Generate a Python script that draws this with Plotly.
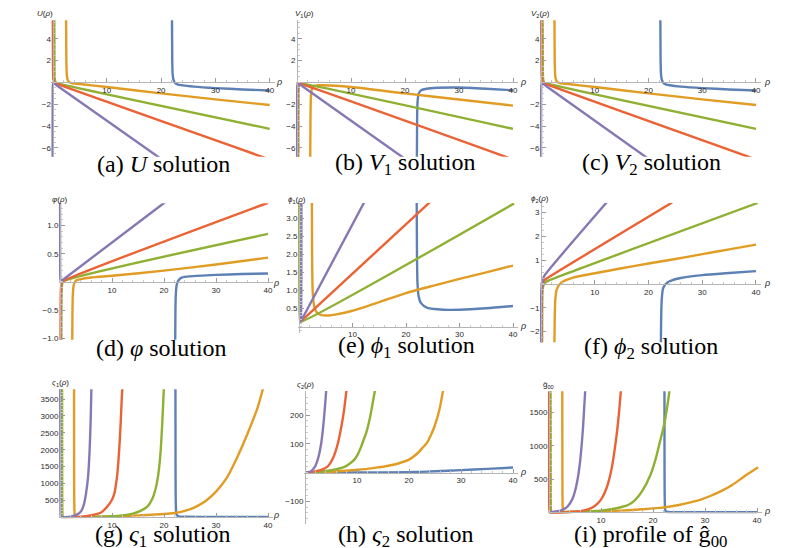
import plotly.graph_objects as go

# ---------------- data ----------------
rho_ticks = [10, 20, 30, 40]

# (a) U
u_blue = [(22.0, 6.2), (22.05, 2.0), (22.12, 0.8), (22.25, 0.3), (22.5, 0.0), (23.0, -0.17), (24, -0.27),
          (26, -0.38), (30, -0.52), (35, -0.64), (40, -0.74)]
u_orange = [(2.5, 6.2), (2.55, 2.0), (2.62, 0.8), (2.75, 0.3), (3.0, 0.05), (3.5, -0.06), (5, -0.14),
            (10, -0.42), (20, -1.0), (30, -1.55), (40, -2.07)]
u_green = [(0.33, 6.2), (0.36, 1.5), (0.42, 0.3), (0.6, 0.0), (1, -0.09), (40, -4.25)]
u_red = [(0.05, 6.2), (0.08, 1.5), (0.15, 0.3), (0.3, 0.0), (1, -0.16), (40, -7.05)]
u_purple = [(0.0, -7.0), (0.02, -1.5), (0.06, -0.3), (0.15, -0.05), (1, -0.35), (20, -7.0)]

# (b) V1
v1_blue = [(22.2, -7.0), (22.25, -3.0), (22.35, -1.6), (22.55, -1.0), (23, -0.72), (24, -0.58), (26, -0.49),
           (30, -0.46), (35, -0.57), (40, -0.72)]
v1_orange = [(2.45, -7.0), (2.5, -3.0), (2.58, -1.3), (2.75, -0.6), (3.1, -0.33), (4, -0.26), (6, -0.28),
             (10, -0.42), (20, -1.0), (30, -1.56), (40, -2.12)]
v1_green = [(0.25, -7.0), (0.27, -2.0), (0.32, -0.5), (0.42, -0.1), (1, -0.11), (40, -4.25)]
v1_red = [(0.1, -7.0), (0.12, -2.0), (0.18, -0.5), (0.3, -0.1), (1, -0.18), (40, -7.05)]
v1_purple = [(0.0, -7.0), (0.02, -1.5), (0.06, -0.3), (0.15, -0.05), (1, -0.35), (20, -7.0)]

# (c) V2
v2_blue = [(22.2, 6.2), (22.25, 2.0), (22.32, 0.8), (22.45, 0.3), (22.7, 0.0), (23.2, -0.17), (24, -0.26),
           (26, -0.38), (30, -0.52), (35, -0.64), (40, -0.74)]
v2_orange = [(2.5, 6.2), (2.55, 2.0), (2.62, 0.8), (2.75, 0.3), (3.0, 0.05), (3.5, -0.06), (5, -0.14),
             (10, -0.42), (20, -1.0), (30, -1.55), (40, -2.07)]
v2_green = [(0.3, 6.2), (0.33, 1.5), (0.4, 0.3), (0.6, 0.0), (1, -0.09), (40, -4.25)]
v2_red = [(0.05, 6.2), (0.08, 1.5), (0.15, 0.3), (0.3, 0.0), (1, -0.16), (40, -7.05)]
v2_purple = [(0.0, -7.0), (0.02, -1.5), (0.06, -0.3), (0.15, -0.05), (1, -0.35), (20, -7.0)]

# (d) varphi
phi_blue = [(22.15, -1.1), (22.2, -0.5), (22.28, -0.2), (22.45, -0.05), (22.8, 0.03), (23.5, 0.08),
            (25, 0.1), (30, 0.125), (35, 0.14), (40, 0.15)]
phi_orange = [(2.35, -1.1), (2.4, -0.5), (2.48, -0.2), (2.65, -0.05), (3.0, 0.02), (4, 0.05), (6, 0.08),
              (10, 0.11), (20, 0.2), (30, 0.31), (40, 0.43)]
phi_green = [(0.25, -1.1), (0.27, -0.5), (0.32, -0.15), (0.45, -0.02), (0.8, 0.02), (40, 0.85)]
phi_red = [(0.1, -1.1), (0.12, -0.5), (0.17, -0.15), (0.3, -0.02), (0.7, 0.02), (40, 1.4)]
phi_purple = [(0.0, 1.45), (0.02, 0.5), (0.05, 0.1), (0.15, 0.01), (0.5, 0.035), (20.2, 1.41)]

# (e) phi1
phi1_blue = [(22.0, 3.5), (22.05, 2.0), (22.15, 1.2), (22.35, 0.85), (22.8, 0.65), (24, 0.52), (27, 0.47),
             (30, 0.47), (35, 0.51), (40, 0.57)]
phi1_orange = [(2.4, 3.5), (2.45, 2.0), (2.55, 1.0), (2.8, 0.6), (3.3, 0.4), (4.2, 0.32), (5.5, 0.31),
               (7, 0.34), (10, 0.44), (15, 0.68), (20, 0.93), (25, 1.13), (30, 1.32), (35, 1.5), (40, 1.69)]
phi1_green = [(0.05, 3.5), (0.07, 1.0), (0.12, 0.35), (0.2, 0.17), (0.35, 0.14), (40.2, 3.41)]
phi1_red = [(0.3, 0.14), (24.5, 3.45)]
phi1_purple = [(0.45, 3.5), (0.42, 0.8), (0.36, 0.25), (0.3, 0.14), (0.6, 0.22), (12.4, 3.5)]

# (f) phi2
phi2_blue = [(22.3, -2.5), (22.35, -1.5), (22.45, -0.7), (22.7, -0.2), (23.2, 0.0), (24, 0.12), (26, 0.25),
             (30, 0.37), (35, 0.46), (40, 0.54)]
phi2_orange = [(2.5, -2.5), (2.55, -1.5), (2.65, -0.7), (2.9, -0.25), (3.5, 0.0), (4.5, 0.15), (6, 0.27),
               (10, 0.45), (15, 0.66), (20, 0.86), (25, 1.05), (30, 1.25), (35, 1.45), (40, 1.65)]
phi2_green = [(0.2, -2.5), (0.22, -1.0), (0.28, -0.3), (0.45, -0.05), (0.9, 0.08), (1.5, 0.15), (40.3, 3.4)]
phi2_red = [(0.1, -2.5), (0.12, -1.0), (0.17, -0.3), (0.3, 0.0), (0.6, 0.15), (1.2, 0.25), (24.4, 3.42)]
phi2_purple = [(0.0, -2.5), (0.02, -1.0), (0.06, -0.3), (0.15, 0.0), (0.35, 0.2), (0.7, 0.37), (12.2, 3.42)]

# (g) varsigma1
s1_blue = [(22.2, 3900), (22.22, 1500), (22.27, 400), (22.4, 80), (22.8, 25), (24, 15), (30, 10), (40, 10)]
s1_orange = [(2.7, 3900), (2.72, 1000), (2.78, 200), (2.9, 20), (3.2, 5), (6, 10), (10, 25), (15, 55),
             (20, 95), (22, 125), (24, 190), (26, 300), (28, 480), (30, 760), (32, 1150), (34, 1750),
             (36, 2450), (38, 3250), (39.2, 3900)]
s1_green = [(0.4, 3900), (0.42, 1000), (0.46, 150), (0.55, 5), (1, 2), (5, 10), (10, 30), (12, 55),
            (14, 110), (15.5, 190), (16.9, 330), (17.8, 560), (18.4, 850), (18.85, 1215), (19.3, 1850),
            (19.6, 2600), (19.85, 3400), (20.0, 3950)]
s1_red = [(0.3, 0), (3, 8), (5, 30), (7, 90), (7.9, 140), (9, 300), (10, 520), (10.5, 730), (10.75, 960),
          (11, 1250), (11.25, 1700), (11.5, 2300), (11.7, 2900), (11.9, 3600), (12.05, 3950)]
s1_purple = [(0.05, 3900), (0.07, 1000), (0.1, 150), (0.15, 5), (0.3, 0), (1, 5), (2, 20), (3, 60),
             (3.6, 110), (4.1, 190), (4.6, 380), (5.0, 700), (5.4, 1200), (5.7, 2000), (5.9, 2900), (6.05, 3900)]

# (h) varsigma2
s2_blue = [(0, 0), (10, 0.5), (20, 1.5), (22, 2.5), (25, 4.5), (30, 8.5), (35, 13), (40, 17.5)]
s2_orange = [(0, 0), (5, 3), (10.2, 10), (12, 13), (14, 18), (15.5, 22), (17.2, 28), (18.5, 35), (20, 45),
             (21.7, 68), (22.5, 84), (23.5, 105), (24.2, 130), (24.9, 160), (25.8, 215), (26.2, 250), (26.6, 290)]
s2_green = [(0, 0), (3, 3), (5, 8), (7.6, 20), (8.5, 30), (9.5, 45), (10.2, 65), (10.8, 90), (11.3, 115),
            (11.8, 140), (12.4, 183), (12.7, 210), (13.0, 240), (13.5, 290)]
s2_red = [(0, 0), (2, 4), (3.5, 12), (4.4, 22), (5.5, 55), (6.3, 100), (7.0, 160), (7.5, 215), (8.0, 290)]
s2_purple = [(0, 0), (1, 3), (1.9, 20), (2.6, 55), (3.1, 100), (3.5, 160), (3.8, 220), (4.1, 290)]

# (i) g00 hat
g_blue = [(22.2, 1900), (22.22, 600), (22.27, 150), (22.4, 20), (22.8, 5), (25, 3), (30, 2), (40, 2)]
g_orange = [(2.55, 1900), (2.58, 500), (2.65, 60), (2.8, 5), (4, 6), (8, 12), (12, 20), (15.2, 30),
            (18, 45), (21.8, 70), (25, 110), (27, 145), (29.3, 194), (31, 245), (33, 315), (35, 400),
            (36.5, 480), (38, 565), (39.2, 625), (40.2, 676)]
g_green = [(0.3, 1900), (0.32, 500), (0.36, 60), (0.45, 2), (1, 3), (5, 8), (10, 25), (12, 45), (14, 80),
           (15.2, 110), (16.5, 180), (18, 330), (19.5, 560), (20.5, 800), (21.3, 1050), (22.2, 1340),
           (22.8, 1620), (23.3, 1900)]
g_red = [(0.0, 1900), (0.02, 500), (0.06, 50), (0.2, 0), (4, 5), (6, 17), (7, 32), (8, 60), (8.8, 94),
         (10, 190), (11, 350), (12, 640), (13, 1160), (13.5, 1530), (13.9, 1900)]
g_purple = [(0.1, 0), (1, 8), (2, 21), (3, 52), (3.65, 94), (4.5, 200), (5, 316), (5.6, 542), (6, 780),
            (6.5, 1230), (7.05, 1950)]

# ---------------- style / geometry ----------------
W, H = 797, 548
COLORS = ['#5E81B5', '#E19C24', '#8FB032', '#EB6235', '#8778B3']
AX = '#b5b5b5'
TICKC = '#9a9a9a'
TF = dict(family='Liberation Sans', size=8, color='#2a2a2a')
SERIF = '"Liberation Serif", "Times New Roman", "DejaVu Serif", serif'
M = '\u2212'

panels = [
    dict(curves=[u_blue, u_orange, u_green, u_red, u_purple], x0=44.5, s=5.43, y0=75, ys=11, ylo=-6.8, yhi=5.7,
         yt=[-6, -4, -2, 2, 4], ytl=[M + '6', M + '4', M + '2', '2', '4'], ymin=0.5,
         lab='<i>U</i>(<i>ρ</i>)', labpos=(37, 6), rpos=(271, 75),
         cap='(a) <i>U</i> solution', cpos=(155, 157)),
    dict(curves=[v1_blue, v1_orange, v1_green, v1_red, v1_purple], x0=289, s=5.4, y0=75, ys=11, ylo=-6.8, yhi=5.7,
         yt=[-6, -4, -2, 2, 4], ytl=[M + '6', M + '4', M + '2', '2', '4'], ymin=0.5,
         lab='<i>V</i><sub>1</sub>(<i>ρ</i>)', labpos=(296, 6), rpos=(515, 75),
         cap='(b) <i>V</i><sub>1</sub> solution', cpos=(397, 157)),
    dict(curves=[v2_blue, v2_orange, v2_green, v2_red, v2_purple], x0=533, s=5.375, y0=75, ys=11, ylo=-6.8, yhi=5.7,
         yt=[-6, -4, -2, 2, 4], ytl=[M + '6', M + '4', M + '2', '2', '4'], ymin=0.5,
         lab='<i>V</i><sub>2</sub>(<i>ρ</i>)', labpos=(532, 6), rpos=(759, 75),
         cap='(c) <i>V</i><sub>2</sub> solution', cpos=(643, 157)),
    dict(curves=[phi_blue, phi_orange, phi_green, phi_red, phi_purple], x0=52, s=5.2, y0=276, ys=57, ylo=-1.02, yhi=1.39,
         yt=[-1.0, -0.5, 0.5, 1.0], ytl=[M + '1.0', M + '0.5', '0.5', '1.0'], ymin=0.1,
         lab='<i>φ</i>(<i>ρ</i>)', labpos=(51, 193), rpos=(268, 277),
         cap='(d) <i>φ</i> solution', cpos=(153, 342)),
    dict(curves=[phi1_blue, phi1_orange, phi1_green, phi1_red, phi1_purple], x0=291, s=5.35, y0=321, ys=36.4, ylo=-0.17, yhi=3.42,
         yt=[0.5, 1.0, 1.5, 2.0, 2.5, 3.0], ytl=['0.5', '1.0', '1.5', '2.0', '2.5', '3.0'], ymin=0.1,
         lab='<i>ϕ</i><sub>1</sub>(<i>ρ</i>)', labpos=(289, 193), rpos=(515, 320),
         cap='(e) <i>ϕ</i><sub>1</sub> solution', cpos=(398, 341)),
    dict(curves=[phi2_blue, phi2_orange, phi2_green, phi2_red, phi2_purple], x0=533, s=5.375, y0=278, ys=24, ylo=-2.45, yhi=3.4,
         yt=[-2, -1, 1, 2, 3], ytl=[M + '2', M + '1', '1', '2', '3'], ymin=0.25,
         lab='<i>ϕ</i><sub>2</sub>(<i>ρ</i>)', labpos=(532, 192), rpos=(759, 277),
         cap='(f) <i>ϕ</i><sub>2</sub> solution', cpos=(643, 342)),
    dict(curves=[s1_blue, s1_orange, s1_green, s1_red, s1_purple], x0=52, s=5.2, y0=513, ys=0.034, ylo=-30, yhi=3790,
         yt=[500, 1000, 1500, 2000, 2500, 3000, 3500], ytl=['500', '1000', '1500', '2000', '2500', '3000', '3500'], ymin=100,
         lab='<i>ς</i><sub>1</sub>(<i>ρ</i>)', labpos=(52, 378), rpos=(268, 511),
         cap='(g) <i>ς</i><sub>1</sub> solution', cpos=(154, 532)),
    dict(curves=[s2_blue, s2_orange, s2_green, s2_red, s2_purple], x0=297, s=5.2, y0=468, ys=0.29, ylo=-180, yhi=283,
         yt=[-100, 100, 200], ytl=[M + '100', '100', '200'], ymin=20,
         lab='<i>ς</i><sub>2</sub>(<i>ρ</i>)', labpos=(297, 380), rpos=(515, 467),
         cap='(h) <i>ς</i><sub>2</sub> solution', cpos=(397, 532)),
    dict(curves=[g_blue, g_orange, g_green, g_red, g_purple], x0=541, s=5.2, y0=508, ys=0.067, ylo=-30, yhi=1820,
         yt=[500, 1000, 1500], ytl=['500', '1000', '1500'], ymin=100,
         lab='ĝ<sub>00</sub>', labpos=(540, 380), rpos=(759, 507),
         cap='(i) profile of ĝ<sub>00</sub>', cpos=(642, 532)),
]

XLO, XHI = -0.25, 41.0

fig = go.Figure()
annotations = []
layout_axes = {}

for k, p in enumerate(panels):
    n = '' if k == 0 else str(k + 1)
    for curve, col in zip(p['curves'], COLORS):
        fig.add_trace(go.Scatter(
            x=[pt[0] for pt in curve], y=[pt[1] for pt in curve],
            mode='lines', line=dict(color=col, width=2.4, shape='spline', smoothing=0.6),
            xaxis='x' + n, yaxis='y' + n, showlegend=False, hoverinfo='skip'))

    xl = p['x0'] + p['s'] * XLO
    xr = p['x0'] + p['s'] * XHI
    yb = p['y0'] + p['ys'] * (0 - p['ylo'])
    yt = p['y0'] - p['ys'] * p['yhi']
    layout_axes['xaxis' + n] = dict(
        domain=[xl / W, xr / W], range=[XLO, XHI], anchor='free',
        position=1 - p['y0'] / H,
        showline=True, linecolor=AX, linewidth=1, showgrid=False, zeroline=False,
        tickmode='array', tickvals=rho_ticks, ticktext=[str(v) for v in rho_ticks],
        ticks='inside', ticklen=4, tickcolor=TICKC, tickfont=TF,
        minor=dict(tickmode='linear', tick0=0, dtick=2, ticks='inside', ticklen=2, tickcolor='#c8c8c8'),
        fixedrange=True)
    layout_axes['yaxis' + n] = dict(
        domain=[1 - yb / H, 1 - yt / H], range=[p['ylo'], p['yhi']], anchor='free',
        position=p['x0'] / W,
        showline=True, linecolor=AX, linewidth=1, showgrid=False, zeroline=False,
        tickmode='array', tickvals=p['yt'], ticktext=p['ytl'],
        ticks='inside', ticklen=4, tickcolor=TICKC, tickfont=TF,
        minor=dict(tickmode='linear', tick0=0, dtick=p['ymin'], ticks='inside', ticklen=2, tickcolor='#c8c8c8'),
        fixedrange=True)

    lx, ly = p['labpos']
    annotations.append(dict(x=lx / W, y=1 - ly / H, xref='paper', yref='paper', text=p['lab'],
                            showarrow=False, xanchor='center', yanchor='middle',
                            font=dict(family='Liberation Sans', size=8, color='#222')))
    rx, ry = p['rpos']
    annotations.append(dict(x=rx / W, y=1 - ry / H, xref='paper', yref='paper', text='<i>ρ</i>',
                            showarrow=False, xanchor='center', yanchor='middle',
                            font=dict(family='Liberation Sans', size=9, color='#222')))
    cx, cy = p['cpos']
    annotations.append(dict(x=cx / W, y=1 - cy / H, xref='paper', yref='paper', text=p['cap'],
                            showarrow=False, xanchor='center', yanchor='middle',
                            font=dict(family=SERIF, size=24, color='black')))

fig.update_layout(width=W, height=H, margin=dict(l=0, r=0, t=0, b=0),
                  paper_bgcolor='white', plot_bgcolor='white',
                  annotations=annotations, **layout_axes)

fig.write_html('out.html')
